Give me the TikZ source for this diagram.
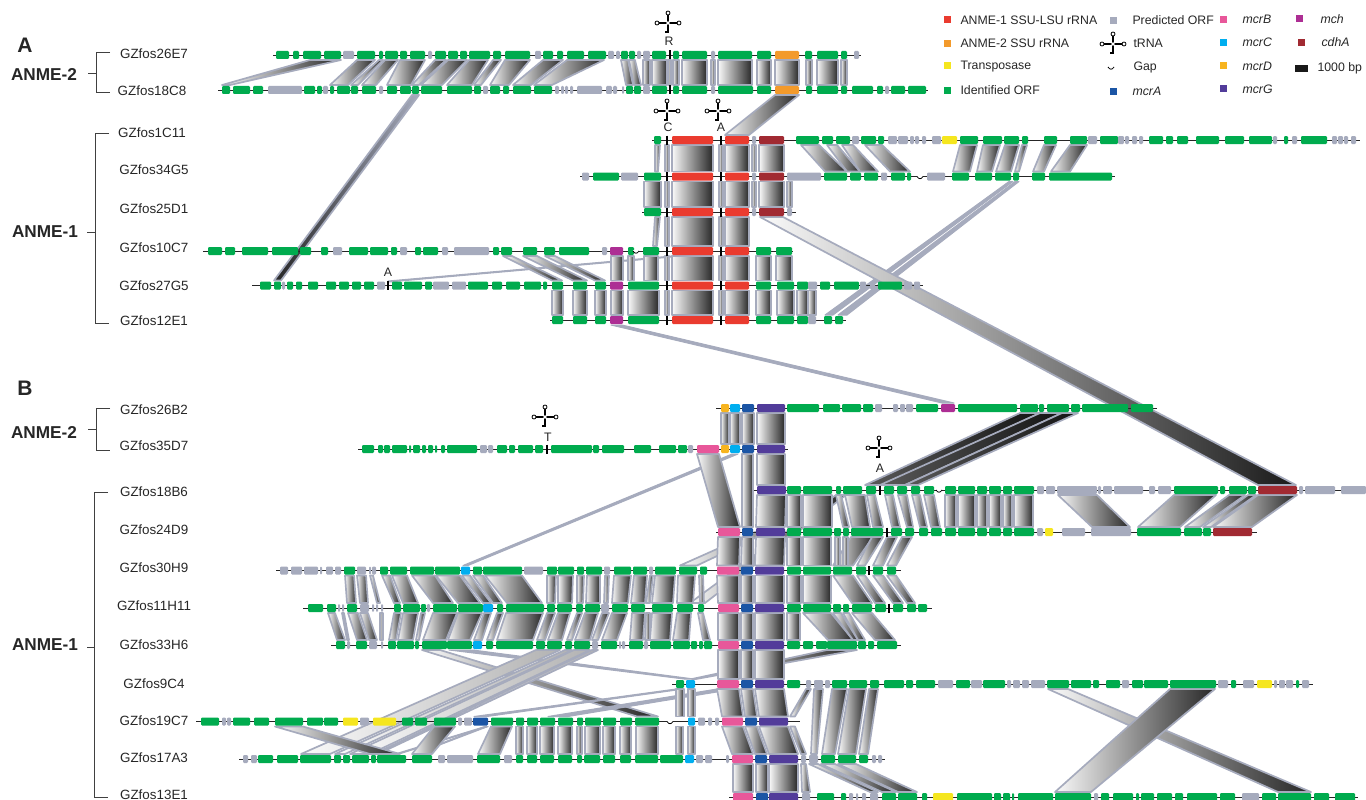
\documentclass[tikz,border=0pt]{standalone}
\usepackage{fontspec}
\setmainfont{Liberation Sans}
\definecolor{gn}{HTML}{00AB4E}
\definecolor{gy}{HTML}{A6ABBD}
\definecolor{rd}{HTML}{EA3B2F}
\definecolor{dr}{HTML}{A12A32}
\definecolor{og}{HTML}{F39A2B}
\definecolor{ye}{HTML}{F5E61F}
\definecolor{pk}{HTML}{E8579A}
\definecolor{cy}{HTML}{00AEEF}
\definecolor{md}{HTML}{F7B41F}
\definecolor{pu}{HTML}{523C9A}
\definecolor{bl}{HTML}{1B55A5}
\definecolor{mg}{HTML}{AD2E94}
\tikzset{
  gene/.style={rounded corners=1.2pt},
  lnk/.style={draw=gy, line width=1.7pt, line join=round, left color=black!2, right color=black!85},
  lnkd/.style={lnk, left color=black!65, right color=black!92},
  lnkl/.style={lnk, left color=black!2, right color=black!30},
  lnkm/.style={lnk, left color=black!2, middle color=black!30, right color=black!90},
  lnkr/.style={lnk, left color=black!85, right color=gy},
  lnkg/.style={draw=gy, line width=1pt, line join=round, fill=gy},
  clone/.style={font=\fontsize{13.4}{14}\selectfont, text=black!85},
  trnl/.style={font=\fontsize{12.3}{13}\selectfont, text=black!85},
  group/.style={font=\bfseries\fontsize{17.2}{18}\selectfont, text=black!85},
  panel/.style={font=\bfseries\fontsize{21}{22}\selectfont, text=black!85},
  key/.style={font=\fontsize{12.3}{13}\selectfont, text=black!85, anchor=west},
  brk/.style={draw=black!75, line width=0.9pt},
  trn/.style={draw=black, line width=1.6pt}
}
% y = row of the first clone, y' = row of the second, then top-left/top-right/bottom-left/bottom-right
\newcommand{\lnks}[4][lnk]{\foreach \a/\b/\c/\d in {#4}{\path[#1] (\a,#2+5) -- (\b,#2+5) -- (\d,#3-5) -- (\c,#3-5) -- cycle;}}
% same, straight boxes
\newcommand{\boxes}[3]{\foreach \a/\b in {#3}{\path[lnk] (\a,#1+5) -- (\b,#1+5) -- (\b,#2-5) -- (\a,#2-5) -- cycle;}}
\newcommand{\fosmid}[4]{\draw[black!85, line width=0.9pt] (#2,#1) -- (#3,#1);
  \foreach \a/\b/\c in {#4}{\fill[gene, \c] (\a,#1-4) rectangle (\b,#1+4);}}
\newcommand{\tick}[2]{\draw[black, line width=1.3pt] (#1,#2-4.5) -- (#1,#2+4.5);}
\newcommand{\gapmark}[2]{\fill[white] (#1-3,#2-1.2) rectangle (#1+3,#2+1.2);
  \draw[black, line width=0.8pt] (#1-3,#2) .. controls (#1-1,#2+3) and (#1+1,#2+3) .. (#1+3,#2);}
\newcommand{\trna}[2]{\begin{scope}[shift={(#1,#2)}]
  \draw[trn] (-9,0) -- (9,0) (0,-8) -- (0,9) -- (-3,9);
  \fill[white] (0,0) circle[radius=1.8pt];
  \draw[black, line width=0.8pt, fill=white] (-11,0) circle[radius=2pt] (11,0) circle[radius=2pt] (0,-10) circle[radius=2pt];
  \end{scope}}
\begin{document}
\begin{tikzpicture}[x=1pt, y=-1pt]
\useasboundingbox (0,0) rectangle (1366,800);
\clip (0,0) rectangle (1366,800);
% panel A, links
\lnks{55}{90}{310/341/222/230, 357/375/330/348, 379/383/351/358, 385/398/362/376, 400/425/387/411, 435/446/412/419, 448/467/421/442, 469/488/447/472, 493/501/474/481, 505/530/490/509, 543/563/513/531, 567/604/534/552, 621/628/626/633, 629/635/634/641}
\boxes{55}{90}{643/650, 652/667, 668/671, 673/679, 682/707, 711/715, 718/752, 757/771, 775/799, 806/812, 817/838, 841/847}
\lnks[lnkr]{90}{285.5}{412/419/274/281}
\lnks{90}{140}{775/799/725/749}
\lnks{140}{176.5}{655/660/655/658, 801/819/825/847, 827/837/847/860, 842/853/860/878, 865/882/890/910, 960/977/953/970, 983/1000/977/992, 1005/1019/996/1011, 1022/1027/1015/1019, 1044/1056/1033/1044, 1070/1087/1051/1070}
\boxes{140}{176.5}{665/669, 672/713, 719/723, 725/749, 752/756, 759/784}
\boxes{176.5}{212}{644/661, 665/669, 672/713, 719/723, 725/749, 752/756, 759/784, 787/792}
\lnks{212}{251}{655/660/653/657}
\boxes{212}{251}{665/669, 672/713, 719/723, 725/749}
\path[lnkg] (388,281) -- (672,256) -- (672,257) -- (389,282) -- cycle;
\lnks{251}{285.5}{503/512/552/562, 523/537/573/587, 545/555/595/605}
\boxes{251}{285.5}{611/623, 628/634, 644/658, 665/669, 672/713, 719/723, 725/749, 756/771, 776/792}
\boxes{285.5}{320}{552/563, 573/587, 595/606, 611/623, 628/659, 665/669, 672/713, 719/723, 725/749, 756/771, 777/794, 797/808, 808/816}
\lnks[lnkg]{176.5}{320}{1009/1013/825/833, 1015/1019/838/847}
\lnks[lnkm]{212}{490}{760/783/1258/1296}
\lnks[lnkg]{320}{408}{611/622/942/954}
% panel B, links
\lnks[lnkd]{408}{490}{1020/1040/865/885, 1040/1062/880/905, 1062/1078/905/918}
\lnks[lnkg]{449}{570.5}{732/738/463/468}
\lnks{490}{570.5}{838/846/680/697}
\lnks{490}{608}{836/846/690/705}
\lnks[lnkg]{645}{684}{449/473/684/694}
\lnks{645}{684}{827/857/692/696}
\lnks{645}{721.5}{422/440/637/658}
\lnks[lnkl]{645}{759}{536/560/301/330, 565/572/335/345, 574/590/350/370, 592/598/374/378}
\lnks[lnkg]{684}{721.5}{676/684/474/487, 717/735/548/568}
\boxes{408}{449}{721/729, 730/740, 742/754, 757/785}
\boxes{449}{490}{757/785}
\boxes{449}{532}{742/753}
\lnks{449}{532}{697/719/718/740}
\lnks{490}{532}{757/786/756/785, 836/841/843/849, 845/865/852/870, 867/875/873/883, 885/893/892/900, 898/907/907/913, 912/920/920/927, 924/934/931/940, 1058/1097/1092/1130, 1174/1216/1138/1180, 1229/1245/1185/1200, 1248/1256/1203/1211, 1258/1297/1213/1252}
\boxes{490}{532}{787/801, 803/832, 945/956, 958/975, 977/987, 989/1001, 1003/1012, 1014/1033}
\lnks{532}{570.5}{718/740/717/739, 742/753/741/753, 756/785/755/784, 851/873/833/853, 872/883/857/865, 887/897/873/883, 902/912/887/896}
\boxes{532}{570.5}{787/801, 803/831, 835/840, 843/848}
\lnks{570.5}{608}{345/354/347/356, 357/366/360/368, 370/373/377/380, 382/390/394/400, 392/407/403/418, 412/435/433/453, 436/460/458/480, 462/470/483/491, 473/483/493/502, 485/522/507/542, 547/556/547/555, 558/573/558/572, 577/584/577/583, 587/600/586/600, 605/609/604/608, 614/631/612/628, 634/647/631/645, 650/653/646/650, 655/675/652/673, 678/695/677/693, 699/703/700/704, 717/739/718/739, 741/753/741/753, 755/784/755/784, 787/801/787/801, 803/831/803/831, 833/853/852/872, 857/865/875/885, 873/883/893/903, 887/896/907/915}
\lnks{608}{645}{328/335/337/345, 342/344/347/349, 348/358/357/367, 360/368/369/377, 380/383/380/383, 394/401/389/396, 403/418/398/413, 421/425/416/419, 433/457/423/446, 458/482/448/470, 484/491/474/482, 497/503/487/493, 506/543/497/533, 547/555/537/545, 558/570/548/562, 577/582/567/572, 585/598/575/590, 602/609/592/598, 612/627/602/617, 632/645/630/643, 646/650/645/650, 652/672/650/670, 677/691/673/689, 698/703/703/710, 718/739/718/739, 741/753/741/753, 755/784/755/784, 787/800/787/800, 803/831/828/853, 833/841/853/858, 843/849/858/865, 852/872/875/895}
\boxes{645}{684}{718/739, 741/753, 755/784}
\boxes{684}{721.5}{676/684, 688/695}
\lnks{684}{721.5}{717/739/722/743, 741/753/745/757, 755/784/759/788, 806/811/790/795}
\lnks{684}{759}{814/823/811/817, 832/847/822/835, 849/866/838/856, 869/878/859/868}
\lnks[lnkg]{721.5}{759}{485/488/413/416, 485/488/395/399}
\lnks{721.5}{759}{275/303/370/400, 434/455/412/432, 491/512/478/500, 722/743/732/753, 745/757/755/767, 759/788/769/798, 790/795/801/806}
\boxes{721.5}{759}{516/523, 527/537, 540/554, 558/572, 577/582, 585/600, 603/615, 620/631, 636/658, 676/683, 688/695}
\lnks{684}{797}{1048/1068/1278/1311, 1170/1215/1055/1091}
\boxes{759}{797}{733/753, 756/768, 769/798}
\lnks{759}{797}{801/806/802/810, 809/818/870/878, 821/835/882/896, 838/856/898/917}
% panel A, clones
\fosmid{55}{273}{861}{276/289/gn, 293/299/gn, 303/321/gn, 324/341/gn, 343/354/gy, 357/375/gn, 379/383/gn, 385/398/gn, 400/407/gn, 410/425/gn, 428/432/gy, 435/446/gn, 448/458/gn, 460/467/gn, 469/490/gn, 493/501/gn, 505/530/gn, 535/541/gy, 543/553/gn, 557/563/gn, 567/584/gn, 588/606/gn, 608/614/gy, 616/620/gy, 621/628/gn, 629/635/gn, 637/641/gy, 643/650/gy, 652/666/gn, 673/679/gn, 682/707/gn, 711/715/gy, 718/752/gn, 757/771/gn, 775/799/og, 805/812/gn, 817/838/gn, 841/847/gn, 854/859/gy}
\fosmid{90}{218}{928}{222/230/gn, 233/250/gn, 253/263/gn, 268/302/gy, 304/315/gn, 317/322/gn, 323/328/gy, 330/334/gn, 337/350/gn, 351/358/gn, 362/376/gn, 379/383/gy, 387/397/gn, 400/411/gn, 412/419/gn, 421/442/gn, 447/472/gn, 474/481/gn, 483/488/gy, 490/500/gn, 503/509/gn, 513/531/gn, 534/552/gn, 555/559/gy, 561/564/gy, 565/568/gy, 570/573/gy, 577/602/gy, 606/612/gy, 613/617/gy, 622/624/gy, 626/633/gn, 634/641/gn, 643/650/gy, 652/667/gn, 673/679/gn, 682/707/gn, 711/715/gy, 718/753/gn, 757/771/gn, 775/799/og, 806/812/gn, 817/838/gn, 841/847/gn, 852/873/gn, 877/883/gn, 885/889/gy, 891/905/gn, 908/926/gn}
\fosmid{140}{652}{1360}{654/661/gn, 672/713/rd, 725/749/rd, 752/756/gy, 759/784/dr, 796/819/gn, 822/833/gn, 836/850/gn, 852/859/gy, 861/876/gn, 878/884/gn, 888/897/gy, 898/908/gy, 910/914/gy, 915/919/gy, 922/926/gy, 932/941/gy, 942/957/ye, 960/978/gn, 983/1002/gn, 1004/1019/gn, 1022/1028/gn, 1044/1057/gn, 1070/1087/gn, 1088/1097/gy, 1100/1118/gn, 1118/1124/gy, 1125/1129/gy, 1132/1137/gy, 1139/1143/gy, 1149/1163/gn, 1166/1173/gn, 1177/1188/gn, 1196/1219/gn, 1225/1244/gn, 1249/1272/gn, 1273/1277/gy, 1284/1288/gn, 1292/1297/gy, 1301/1327/gn, 1332/1337/gy, 1338/1343/gy, 1344/1348/gy, 1351/1356/gy}
\fosmid{176.5}{580}{1115}{582/589/gy, 593/619/gn, 621/638/gy, 644/661/gn, 672/713/rd, 725/749/rd, 752/756/gy, 759/784/dr, 787/821/gy, 824/847/gn, 850/861/gn, 864/878/gn, 881/887/gy, 891/905/gn, 907/911/gn, 927/945/gy, 952/969/gn, 975/992/gn, 995/1011/gn, 1013/1019/gn, 1032/1045/gn, 1049/1112/gn}
\fosmid{212}{642}{796}{644/661/gn, 672/713/rd, 725/749/rd, 752/756/gy, 759/784/dr, 787/792/gy}
\fosmid{251}{203}{793}{208/222/gn, 225/235/gn, 242/268/gn, 272/298/gn, 300/311/gn, 321/328/gn, 333/342/gy, 349/368/gn, 370/388/gn, 391/397/gn, 400/407/gy, 415/421/gn, 423/438/gn, 442/448/gy, 454/489/gy, 493/499/gn, 501/512/gn, 523/537/gn, 544/555/gn, 559/589/gn, 602/607/gy, 610/623/mg, 628/634/gn, 643/659/gn, 672/713/rd, 725/749/rd, 756/771/gn, 776/792/gn}
\fosmid{285.5}{252}{923}{260/271/gn, 274/281/gn, 282/285/gy, 287/293/gn, 296/302/gn, 308/318/gn, 326/336/gn, 339/349/gn, 352/361/gn, 364/374/gn, 377/385/gy, 392/402/gn, 404/422/gn, 425/432/gn, 433/449/gy, 452/466/gy, 468/488/gn, 492/502/gn, 506/520/gn, 524/541/gn, 543/547/gn, 552/563/gn, 573/587/gn, 595/606/gn, 610/623/mg, 628/659/gn, 672/713/rd, 725/749/rd, 756/771/gn, 777/794/gn, 797/808/gn, 808/817/gy, 820/830/gn, 834/859/gn, 860/866/gy, 870/875/gy, 878/902/gn, 904/912/gy, 914/920/gy}
\fosmid{320}{550}{846}{552/563/gn, 573/587/gn, 595/606/gn, 610/623/mg, 628/659/gn, 672/713/rd, 725/749/rd, 756/771/gn, 777/794/gn, 797/808/gn, 808/816/gy, 824/832/gn, 835/843/gn}
% panel B, clones
\fosmid{408}{716}{1157}{721/729/md, 730/740/cy, 742/754/bl, 757/785/pu, 787/819/gn, 823/840/gn, 842/861/gn, 863/873/gn, 875/882/gy, 893/898/gy, 900/905/gy, 906/913/gy, 916/938/gn, 941/955/mg, 958/1017/gn, 1020/1038/gn, 1039/1044/gn, 1047/1069/gn, 1071/1080/gn, 1082/1128/gn, 1131/1153/gn}
\fosmid{449}{358}{788}{362/374/gn, 378/383/gn, 384/390/gn, 392/407/gn, 409/411/gn, 413/420/gn, 422/426/gn, 428/433/gn, 435/437/gn, 441/445/gn, 447/477/gn, 480/487/gy, 488/493/gy, 497/507/gn, 509/515/gn, 518/533/gn, 535/543/gn, 551/592/gn, 593/599/gn, 602/624/gn, 634/651/gn, 659/676/gn, 678/687/gn, 688/693/gy, 697/719/pk, 721/729/md, 730/740/cy, 742/754/bl, 757/785/pu}
\fosmid{490}{754}{1366}{757/786/pu, 787/801/gn, 803/832/gn, 836/841/gn, 843/862/gn, 866/876/gn, 884/894/gn, 897/907/gn, 911/920/gn, 924/934/gn, 945/956/gn, 958/975/gn, 977/987/gn, 989/1001/gn, 1003/1012/gn, 1014/1034/gn, 1037/1044/gy, 1046/1055/gy, 1057/1097/gy, 1098/1101/gy, 1103/1112/gy, 1114/1143/gy, 1149/1155/gy, 1158/1171/gy, 1174/1218/gn, 1220/1225/gn, 1229/1247/gn, 1248/1256/gn, 1258/1297/dr, 1299/1303/gy, 1305/1335/gy, 1341/1366/gy}
\fosmid{532}{716}{1257}{718/740/pk, 742/753/bl, 756/785/pu, 787/801/gn, 803/832/gn, 834/841/gn, 843/849/gn, 851/883/gn, 891/902/gn, 905/914/gn, 919/928/gn, 931/942/gn, 945/956/gn, 958/975/gn, 977/987/gn, 989/1001/gn, 1003/1012/gn, 1014/1034/gn, 1037/1043/gy, 1045/1053/ye, 1062/1085/gy, 1091/1131/gy, 1137/1181/gn, 1184/1202/gn, 1203/1211/gn, 1213/1252/dr}
\fosmid{570.5}{276}{901}{280/288/gy, 291/302/gy, 304/318/gy, 320/322/gy, 326/333/gy, 335/341/gy, 344/355/gn, 357/366/gy, 369/371/gy, 372/376/gy, 380/388/gn, 390/407/gn, 410/434/gn, 435/460/gn, 461/470/cy, 473/482/gn, 483/522/gn, 524/543/gy, 547/557/gn, 558/574/gn, 577/584/gn, 586/602/gn, 604/610/gy, 614/631/gn, 633/647/gn, 649/653/gy, 655/676/gn, 679/697/gn, 700/707/gn, 717/739/pk, 741/753/bl, 755/784/pu, 787/801/gn, 803/831/gn, 833/852/gn, 856/866/gn, 873/883/gn, 887/896/gn}
\fosmid{608}{303}{932}{308/323/gn, 327/336/gn, 338/340/gy, 342/344/gy, 347/357/gn, 360/369/gy, 372/374/gy, 376/378/gy, 381/383/gy, 394/401/gn, 403/420/gn, 421/426/gn, 427/430/gy, 433/457/gn, 458/483/gn, 483/493/cy, 497/503/gn, 506/544/gn, 547/555/gn, 557/572/gn, 576/583/gn, 585/600/gn, 601/609/gy, 612/628/gn, 631/645/gn, 652/673/gn, 677/693/gn, 698/704/gn, 718/739/pk, 741/753/bl, 755/784/pu, 787/801/gn, 803/831/gn, 833/841/gn, 843/849/gn, 852/872/gn, 875/886/gn, 893/903/gn, 907/916/gn, 918/927/gn}
\fosmid{645}{331}{901}{336/345/gn, 347/350/gy, 356/367/gn, 369/377/gy, 381/383/gy, 388/396/gn, 397/414/gn, 415/419/gn, 422/447/gn, 447/472/gn, 473/482/cy, 486/493/gn, 496/533/gn, 536/545/gn, 547/562/gn, 565/572/gn, 574/590/gn, 592/598/gy, 601/617/gn, 619/621/gy, 622/625/gy, 629/643/gn, 644/648/gy, 650/671/gn, 673/690/gn, 691/697/gn, 699/703/gn, 704/712/gn, 718/739/pk, 741/753/bl, 755/784/pu, 787/800/gn, 803/813/gn, 816/827/gn, 827/857/gn, 858/866/gn, 868/874/gn, 877/897/gn}
\fosmid{684}{672}{1313}{676/684/gn, 686/695/cy, 717/739/pk, 741/753/bl, 755/784/pu, 787/800/gn, 806/811/gy, 814/823/gy, 825/830/gy, 832/847/gn, 849/867/gn, 870/879/gn, 884/904/gn, 906/913/gn, 916/935/gn, 938/953/gy, 956/970/gn, 971/982/gy, 983/1005/gn, 1007/1011/gy, 1013/1020/gy, 1022/1029/gy, 1031/1045/gy, 1047/1069/gn, 1071/1091/gn, 1093/1099/gn, 1106/1120/gn, 1122/1129/gy, 1132/1143/gn, 1144/1168/gn, 1170/1216/gn, 1218/1228/gy, 1231/1236/gn, 1243/1254/gy, 1257/1272/ye, 1274/1277/gy, 1279/1285/gy, 1286/1293/gy, 1296/1299/gn, 1302/1309/gy}
\fosmid{721.5}{196}{800}{201/219/gn, 222/226/gy, 227/231/gy, 233/250/gn, 254/269/gn, 275/303/gn, 307/323/gn, 324/338/gn, 343/358/ye, 360/369/gy, 373/396/ye, 402/413/gn, 415/427/gn, 434/456/gn, 458/462/gy, 464/472/gy, 473/488/bl, 491/513/gn, 516/524/gn, 527/538/gn, 540/555/gn, 558/573/gn, 577/583/gn, 585/601/gn, 603/616/gn, 620/632/gn, 635/659/gn, 688/695/cy, 698/705/gy, 708/712/gy, 715/719/gy, 722/743/pk, 745/757/bl, 759/788/pu}
\fosmid{759}{239}{885}{243/248/gy, 251/257/gy, 258/273/gn, 277/298/gn, 300/331/gn, 334/341/gn, 343/350/gn, 352/369/gn, 371/376/gn, 377/406/gn, 412/432/gn, 438/445/gy, 447/473/gy, 477/500/gn, 504/512/gy, 516/523/gn, 527/537/gn, 540/554/gn, 558/572/gn, 577/582/gn, 584/600/gn, 603/615/gn, 620/631/gn, 635/658/gn, 660/683/gn, 685/694/cy, 696/703/gy, 705/712/gy, 726/729/gy, 732/753/pk, 755/767/bl, 769/798/pu, 801/806/gy, 809/818/gy, 821/835/gn, 838/856/gn, 859/868/gn, 872/876/gy, 878/882/gy}
\fosmid{797}{729}{1358}{733/753/pk, 756/768/bl, 769/798/pu, 802/810/gy, 817/834/gn, 841/846/gn, 849/853/gy, 856/858/gy, 862/866/gy, 870/878/gy, 882/896/gn, 898/917/gn, 922/927/gn, 933/953/ye, 957/992/gn, 994/1001/gn, 1003/1010/gn, 1012/1014/gn, 1018/1053/gn, 1055/1091/gn, 1094/1098/gy, 1101/1109/gn, 1113/1133/gn, 1136/1139/gn, 1141/1154/gn, 1157/1172/gn, 1175/1183/gn, 1187/1217/gn, 1220/1235/gn, 1242/1259/gy, 1262/1276/gn, 1278/1311/gn, 1314/1329/gn, 1335/1355/gn}
% tRNA ticks and gaps
\foreach \p/\q in {670/55, 670/90, 667/140, 721/140, 667/176.5, 721/176.5, 667/212, 721/212, 667/251, 721/251, 667/285.5, 721/285.5, 667/320, 721/320, 388/285.5, 547/449, 880/490, 887/532, 869/570.5, 889/608}{\tick{\p}{\q}}
\foreach \p/\q in {920/176.5, 636/251, 939/490, 670/721.5, 1111/67}{\gapmark{\p}{\q}}
% tRNA symbols
\trna{668}{23}
\trna{667}{111}
\trna{718}{111}
\trna{545}{417}
\trna{879}{448}
\trna{1113}{44}
\node[trnl] (trnaR) at (669,41) {R};
\node[trnl] (trnaC) at (668,127) {C};
\node[trnl] (trnaA) at (721,127) {A};
\node[trnl] (trnaB) at (388,272) {A};
\node[trnl] (trnaT) at (548,437) {T};
\node[trnl] (trnaD) at (880,468) {A};
% clone names
\foreach \nm/\xx/\yy in {GZfos26E7/154/54, GZfos18C8/152/91, GZfos1C11/152/133, GZfos34G5/154/170, GZfos25D1/154/209, GZfos10C7/154/248, GZfos27G5/154/286, GZfos12E1/154/321, GZfos26B2/154/410, GZfos35D7/154/446, GZfos18B6/154/492, GZfos24D9/154/530, GZfos30H9/154/568, GZfos11H11/154/606, GZfos33H6/154/645, GZfos9C4/154/684, GZfos19C7/154/721, GZfos17A3/154/758, GZfos13E1/154/795}
  \node[clone] (\nm) at (\xx,\yy) {\nm};
% groups
\node[panel] (panelA) at (25,45) {A};
\node[panel] (panelB) at (25,388) {B};
\node[group] (anmeAtwo) at (44,74) {ANME-2};
\node[group] (anmeAone) at (45,232) {ANME-1};
\node[group] (anmeBtwo) at (44,432) {ANME-2};
\node[group] (anmeBone) at (45,645) {ANME-1};
\draw[brk] (110,52) -- (96,52) -- (96,92) -- (110,92) (88,73) -- (96,73);
\draw[brk] (109,133) -- (95,133) -- (95,323) -- (109,323) (87,232) -- (95,232);
\draw[brk] (110,408) -- (96,408) -- (96,450) -- (110,450) (88,429) -- (96,429);
\draw[brk] (108,492) -- (94,492) -- (94,797) -- (108,797) (87,647) -- (94,647);
% legend
\foreach \cc/\xx/\yy in {rd/947/20, og/947/44, ye/947/66, gn/947/91, gy/1113/21, bl/1113/92, pk/1223/20, cy/1223/43, md/1223/66, pu/1223/89, mg/1299/19, dr/1301/43}
  \fill[\cc] (\xx-3.5,\yy-3.5) rectangle (\xx+3.5,\yy+3.5);
\fill[black!90] (1295,65.5) rectangle (1308,72.5);
\node[key] at (957,20) {ANME-1 SSU-LSU rRNA};
\node[key] at (957,43) {ANME-2 SSU rRNA};
\node[key] at (957,67) {Transposase};
\node[key] at (957,90) {Identified ORF};
\node[key] at (1129,20) {Predicted ORF};
\node[key] at (1130,43) {tRNA};
\node[key] at (1130,67) {Gap};
\node[key] at (1129,91) {\itshape mcrA};
\node[key] at (1239,19) {\itshape mcrB};
\node[key] at (1239,42) {\itshape mcrC};
\node[key] at (1239,66) {\itshape mcrD};
\node[key] at (1239,89) {\itshape mcrG};
\node[key] at (1317,19) {\itshape mch};
\node[key] at (1318,42) {\itshape cdhA};
\node[key] at (1314,68) {1000 bp};
\end{tikzpicture}
\end{document}
